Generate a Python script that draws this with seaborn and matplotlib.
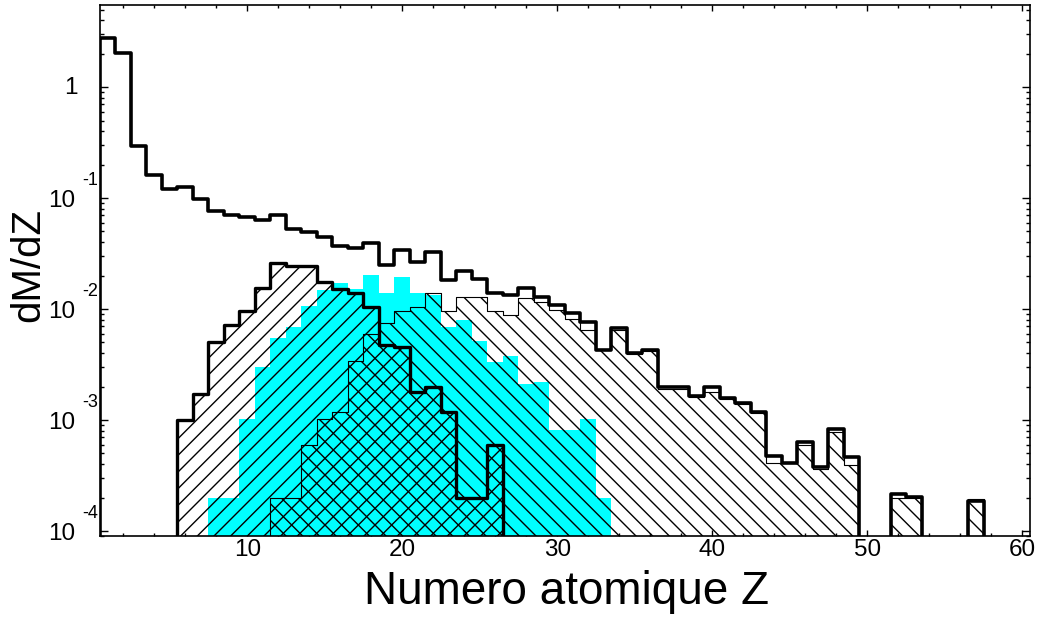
import matplotlib
matplotlib.use('Agg')
import numpy as np
import seaborn as sns
import matplotlib.pyplot as plt
from matplotlib.ticker import MultipleLocator, LogLocator, NullFormatter, FixedLocator


# dM/dZ per atomic number

# total distribution (thick black line)
z_total = list(range(1, 58))
m_total = [2.78, 2.04, 0.294, 0.163, 0.120, 0.126, 0.098, 0.0769, 0.0703, 0.067,
           0.0634, 0.0703, 0.0526, 0.0497, 0.0443, 0.0372, 0.0352, 0.039, 0.0249, 0.034,
           0.0267, 0.0326, 0.0183, 0.0221, 0.0187, 0.0140, 0.0134, 0.0154, 0.0129, 0.0109,
           0.0092, 0.0077, 0.0043, 0.0067, 0.0040, 0.0043, 0.0020, 0.0020, 0.00163, 0.00197,
           0.00158, 0.00141, 0.00119, 0.000478, 0.00041, 0.000635, 0.000373, 0.00083, 0.00046, 0,
           0, 0.000215, 0.000202, 0, 0, 0, 0.000185]

# light fragments, hatched ///
z_light = list(range(6, 27))
m_light = [0.00099, 0.00173, 0.0050, 0.0072, 0.0095, 0.0154, 0.0259, 0.0245, 0.0245, 0.0176,
           0.0151, 0.0139, 0.0104, 0.0047, 0.0045, 0.0018, 0.0020, 0.00117, 0.000197, 0.000197,
           0.000596]

# heavy fragments, hatched \\\
z_heavy = list(range(12, 58))
m_heavy = [0.0002, 0.0002, 0.0006, 0.00101, 0.00118, 0.0034, 0.006, 0.0075, 0.0095, 0.0105,
           0.0139, 0.0095, 0.0129, 0.0129, 0.0095, 0.0088, 0.0125, 0.0116, 0.0098, 0.0082,
           0.0065, 0.0043, 0.0065, 0.0039, 0.0042, 0.0019, 0.0019, 0.0016, 0.0018, 0.00155,
           0.0014, 0.00115, 0.00041, 0.00041, 0.0006, 0.00036, 0.00078, 0.00039, 0, 0,
           0.0002, 0.0002, 0, 0, 0, 0.000192]

# cyan filled distribution
z_cyan = list(range(8, 34))
m_cyan = [0.0002, 0.0002, 0.00101, 0.0030, 0.0055, 0.0069, 0.0106, 0.0148, 0.0170, 0.0152,
          0.0203, 0.0139, 0.0194, 0.0139, 0.0135, 0.0069, 0.0079, 0.0051, 0.0033, 0.0038,
          0.0021, 0.0022, 0.00082, 0.00082, 0.00101, 0.0002]

x_ticks = [10, 20, 30, 40, 50, 60]
y_exponents = [0, -1, -2, -3, -4]


sns.set_style('ticks')
plt.rcParams['font.family'] = ['Liberation Sans', 'DejaVu Sans']
plt.rcParams['text.color'] = 'black'
plt.rcParams['xtick.labelcolor'] = 'black'
plt.rcParams['ytick.labelcolor'] = 'black'
plt.rcParams['hatch.linewidth'] = 1.0

fig = plt.figure(figsize=(10.38, 6.18), dpi=100)
ax = fig.add_axes([0.0963, 0.1327, 0.896, 0.859])
ax.set_yscale('log')

sns.histplot(x=z_cyan, weights=m_cyan, discrete=True, element='step', fill=True,
             color='#00ffff', alpha=1, linewidth=0, ax=ax)
sns.histplot(x=z_heavy, weights=m_heavy, discrete=True, element='step', fill=True,
             color='black', facecolor='none', hatch='\\\\', linewidth=0.8, ax=ax)
sns.histplot(x=z_light, weights=m_light, discrete=True, element='step', fill=True,
             color='black', facecolor='none', hatch='//', linewidth=2.4, ax=ax)
sns.histplot(x=z_total, weights=m_total, discrete=True, element='step', fill=True,
             color='black', facecolor='none', linewidth=2.6, ax=ax)

ax.set_xlim(0.5, 60.5)
ax.set_ylim(9.0e-5, 5.48)
ax.set_xlabel('')
ax.set_ylabel('')

ax.xaxis.set_major_locator(FixedLocator(x_ticks))
ax.xaxis.set_minor_locator(MultipleLocator(2))
ax.yaxis.set_major_locator(FixedLocator([10.0 ** e for e in y_exponents]))
ax.yaxis.set_major_formatter(NullFormatter())
ax.yaxis.set_minor_locator(LogLocator(base=10, subs=np.arange(2, 10)))
ax.yaxis.set_minor_formatter(NullFormatter())

ax.tick_params(which='both', direction='in', top=True, right=True, color='black')
ax.tick_params(axis='x', which='major', length=4.5, width=1, labelsize=17.5, pad=2)
ax.tick_params(axis='x', which='minor', length=2.5, width=1)
ax.tick_params(axis='y', which='major', length=6, width=1)
ax.tick_params(axis='y', which='minor', length=3, width=1)
for sp in ax.spines.values():
    sp.set_visible(True)
    sp.set_linewidth(1.2)
    sp.set_color('black')

# ROOT-style log labels: "1", then 10 with a raised exponent
for e in y_exponents:
    if e == 0:
        ax.annotate('1', xy=(0, 1.0), xycoords=('axes fraction', 'data'),
                    xytext=(-22, -7), textcoords='offset pixels',
                    ha='right', va='baseline', fontsize=17.5)
    else:
        ax.annotate('10', xy=(0, 10.0 ** e), xycoords=('axes fraction', 'data'),
                    xytext=(-25, -9), textcoords='offset pixels',
                    ha='right', va='baseline', fontsize=17.5)
        ax.annotate(str(e), xy=(0, 10.0 ** e), xycoords=('axes fraction', 'data'),
                    xytext=(-18, 13), textcoords='offset pixels',
                    ha='left', va='baseline', fontsize=13)

fig.text(566 / 1038, 1 - 604 / 618, 'Numero atomique Z', ha='center', va='baseline', fontsize=33)
fig.text(28 / 1038, 1 - 265 / 618, 'dM/dZ', ha='center', va='center', rotation=90, fontsize=29)

fig.savefig('out.png', dpi=100)
